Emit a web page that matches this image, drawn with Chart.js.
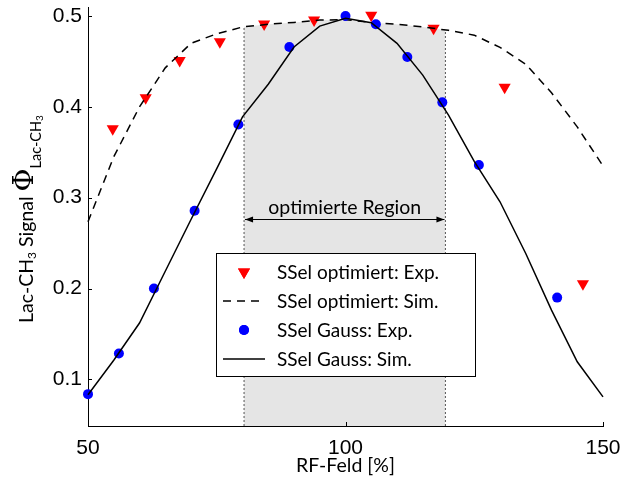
<!DOCTYPE html>
<html>
<head>
<meta charset="utf-8">
<script src="https://cdn.jsdelivr.net/npm/chart.js@4/dist/chart.umd.min.js"></script>
<style>
  html, body { margin: 0; padding: 0; background: #fff; }
  #wrap { width: 622px; height: 483px; }
</style>
</head>
<body>
<div id="wrap"><canvas id="c" width="622" height="483"></canvas></div>
<script>
// Simulated signal over the RF field, sampled every 5 %
const simRF = [50, 55, 60, 65, 70, 75, 80, 85, 90, 95, 100, 105, 110, 115, 120, 125, 130, 135, 140, 145, 150];
const simOptimiert = [0.2735, 0.345, 0.400, 0.443, 0.470, 0.4805, 0.488, 0.491, 0.493, 0.4956, 0.496, 0.493, 0.491, 0.488, 0.4843, 0.479, 0.4655, 0.447, 0.4156, 0.378, 0.335];
const simGauss = [0.083, 0.121, 0.162, 0.219, 0.276, 0.332, 0.389, 0.425, 0.466, 0.489, 0.4975, 0.4927, 0.470, 0.435, 0.391, 0.340, 0.2955, 0.2386, 0.1762, 0.1193, 0.0807];

// Measured signal, optimised selective pulse
const expOptRF = [54.8, 61.2, 67.8, 75.6, 84.2, 93.9, 105.0, 117.1, 130.9, 146.1];
const expOptSignal = [0.376, 0.410, 0.451, 0.4716, 0.4914, 0.4958, 0.501, 0.4867, 0.4215, 0.2053];

// Measured signal, Gaussian selective pulse
const expGaussRF = [50.0, 56.0, 62.8, 70.7, 79.2, 89.1, 100.0, 105.9, 112.0, 118.8, 125.9, 141.1];
const expGaussSignal = [0.0837, 0.1285, 0.200, 0.2856, 0.3807, 0.466, 0.500, 0.491, 0.455, 0.405, 0.336, 0.190];

// Optimised RF range and the level of its arrow
const regionBounds = [80.3, 119.4];
const regionArrowLevel = 0.2765;
const regionLabel = 'optimierte Region';

const xTicks = [50, 100, 150];
const yTicks = [0.1, 0.2, 0.3, 0.4, 0.5];
const xRange = [50, 150];
const yRange = [0.0486, 0.51];

const seriesLabels = ['SSel optimiert: Exp.', 'SSel optimiert: Sim.', 'SSel Gauss: Exp.', 'SSel Gauss: Sim.'];
const xTitle = 'RF-Feld [%]';

const TEXT_FONT = 'Lato, "Open Sans", sans-serif';
const TICK_FONT = '"Liberation Sans", Arial, sans-serif';

function pts(xs, ys) { return xs.map((x, i) => ({ x: x, y: ys[i] })); }

// Linear read-off of the optimised simulation at a given RF value
function simOptAt(x) {
  for (let i = 0; i < simRF.length - 1; i++) {
    if (x >= simRF[i] && x <= simRF[i + 1]) {
      const t = (x - simRF[i]) / (simRF[i + 1] - simRF[i]);
      return simOptimiert[i] + t * (simOptimiert[i + 1] - simOptimiert[i]);
    }
  }
  return simOptimiert[simOptimiert.length - 1];
}

const regionOutline = [{ x: regionBounds[0], y: simOptAt(regionBounds[0]) }]
  .concat(simRF.map((x, i) => ({ x: x, y: simOptimiert[i] })).filter(p => p.x > regionBounds[0] && p.x < regionBounds[1]))
  .concat([{ x: regionBounds[1], y: simOptAt(regionBounds[1]) }]);

const boundLine = (b) => [{ x: b, y: yRange[0] }, { x: b, y: simOptAt(b) }];

// Legend, arrow, axis titles and inward tick marks
const decorations = {
  id: 'decorations',
  afterDatasetsDraw(chart) {
    const { ctx, scales: { x, y } } = chart;
    ctx.save();

    // double arrow across the optimised range
    const ay = Math.round(y.getPixelForValue(regionArrowLevel)) + 0.5;
    const ax0 = x.getPixelForValue(regionBounds[0]) + 1;
    const ax1 = x.getPixelForValue(regionBounds[1]) - 1;
    ctx.strokeStyle = '#000';
    ctx.fillStyle = '#000';
    ctx.lineWidth = 1;
    ctx.beginPath();
    ctx.moveTo(ax0, ay); ctx.lineTo(ax1, ay); ctx.stroke();
    ctx.beginPath();
    ctx.moveTo(ax0, ay); ctx.lineTo(ax0 + 8, ay - 3); ctx.lineTo(ax0 + 8, ay + 3); ctx.closePath(); ctx.fill();
    ctx.beginPath();
    ctx.moveTo(ax1, ay); ctx.lineTo(ax1 - 8, ay - 3); ctx.lineTo(ax1 - 8, ay + 3); ctx.closePath(); ctx.fill();
    ctx.font = '19.5px ' + TEXT_FONT;
    ctx.textAlign = 'center';
    ctx.textBaseline = 'alphabetic';
    ctx.fillText(regionLabel, (ax0 + ax1) / 2, ay - 6);

    // inward tick marks
    ctx.strokeStyle = '#000';
    ctx.beginPath();
    yTicks.forEach(v => {
      const py = Math.round(y.getPixelForValue(v)) + 0.5;
      ctx.moveTo(x.left, py); ctx.lineTo(x.left + 4, py);
    });
    xTicks.forEach(v => {
      const px = Math.round(x.getPixelForValue(v)) + 0.5;
      ctx.moveTo(px, y.bottom); ctx.lineTo(px, y.bottom - 4);
    });
    ctx.stroke();

    // legend box
    const lx = 216, ly = 253, lw = 259, lh = 123;
    ctx.fillStyle = '#fff';
    ctx.fillRect(lx, ly, lw, lh);
    ctx.strokeStyle = '#000';
    ctx.lineWidth = 1;
    ctx.strokeRect(lx + 0.5, ly + 0.5, lw, lh);
    const rowY = (i) => ly + 19 + i * 29;
    const symX = 244;
    ctx.font = '19px ' + TEXT_FONT;
    ctx.textAlign = 'left';
    ctx.textBaseline = 'middle';
    chart.data.datasets.filter(d => d.legendIndex !== undefined).forEach(d => {
      const i = d.legendIndex;
      const cy = rowY(i);
      if (d.showLine) {
        ctx.save();
        ctx.strokeStyle = d.borderColor;
        ctx.lineWidth = d.borderWidth;
        ctx.setLineDash(d.borderDash || []);
        ctx.beginPath(); ctx.moveTo(223, cy); ctx.lineTo(265, cy); ctx.stroke();
        ctx.restore();
      } else {
        ctx.save();
        ctx.fillStyle = d.backgroundColor;
        Chart.helpers.drawPoint(ctx, { pointStyle: d.pointStyle, radius: d.pointRadius, rotation: d.rotation || 0, borderWidth: 0 }, symX, cy);
        ctx.fill();
        ctx.restore();
      }
      ctx.fillStyle = '#000';
      ctx.fillText(d.label, 277, cy + 1);
    });

    // x axis title
    ctx.font = '19.5px ' + TEXT_FONT;
    ctx.textAlign = 'center';
    ctx.textBaseline = 'middle';
    ctx.fillText(xTitle, (x.left + x.right) / 2, 466);

    // y axis title with subscripts
    ctx.translate(33, 219);
    ctx.rotate(-Math.PI / 2);
    ctx.textBaseline = 'alphabetic';
    ctx.textAlign = 'left';
    const parts = [
      { t: 'Lac-CH', f: '19.5px ' + TEXT_FONT, dy: 0 },
      { t: '3', f: '12px ' + TEXT_FONT, dy: 3 },
      { t: ' Signal ', f: '19.5px ' + TEXT_FONT, dy: 0 },
      { t: '\u03A6', f: '28px "DejaVu Serif", serif', dy: 0 },
      { t: 'Lac-CH', f: '14.5px ' + TEXT_FONT, dy: 8 },
      { t: '3', f: '10px ' + TEXT_FONT, dy: 10 }
    ];
    let total = 0;
    parts.forEach(p => { ctx.font = p.f; p.w = ctx.measureText(p.t).width; total += p.w; });
    let cx = -total / 2;
    parts.forEach(p => { ctx.font = p.f; ctx.fillText(p.t, cx, p.dy); cx += p.w; });

    ctx.restore();
  }
};

new Chart(document.getElementById('c'), {
  type: 'scatter',
  data: {
    datasets: [
      {
        label: seriesLabels[3], legendIndex: 3,
        data: pts(simRF, simGauss), showLine: true,
        borderColor: '#000', borderWidth: 1.5, pointRadius: 0, order: 1, clip: false
      },
      {
        label: seriesLabels[2], legendIndex: 2,
        data: pts(expGaussRF, expGaussSignal), showLine: false,
        pointStyle: 'circle', pointRadius: 5, backgroundColor: '#0000ff', borderWidth: 0,
        order: 2, clip: false
      },
      {
        label: seriesLabels[1], legendIndex: 1,
        data: pts(simRF, simOptimiert), showLine: true,
        borderColor: '#000', borderWidth: 1.5, borderDash: [8, 6], pointRadius: 0, order: 3, clip: false
      },
      {
        label: seriesLabels[0], legendIndex: 0,
        data: pts(expOptRF, expOptSignal), showLine: false,
        pointStyle: 'triangle', rotation: 180, pointRadius: 7, backgroundColor: '#ff0000', borderWidth: 0,
        order: 4, clip: false
      },
      {
        label: 'bound-left', data: boundLine(regionBounds[0]), showLine: true,
        borderColor: '#555', borderWidth: 1, borderDash: [2, 2], pointRadius: 0, order: 5
      },
      {
        label: 'bound-right', data: boundLine(regionBounds[1]), showLine: true,
        borderColor: '#555', borderWidth: 1, borderDash: [2, 2], pointRadius: 0, order: 5
      },
      {
        label: 'region', data: regionOutline, showLine: true,
        borderWidth: 0, borderColor: 'rgba(0,0,0,0)', backgroundColor: '#e5e5e5',
        fill: 'start', pointRadius: 0, order: 6
      }
    ]
  },
  options: {
    responsive: false,
    animation: false,
    events: [],
    layout: { padding: { left: 0, top: 7, right: 19, bottom: 0 } },
    plugins: { legend: { display: false }, tooltip: { enabled: false } },
    scales: {
      x: {
        type: 'linear', min: xRange[0], max: xRange[1],
        grid: { display: false, drawTicks: false },
        border: { display: true, color: '#000', width: 1 },
        afterBuildTicks: (s) => { s.ticks = xTicks.map(v => ({ value: v })); },
        afterFit: (s) => { s.height = 57; s.paddingLeft = 0; s.paddingRight = 0; },
        ticks: { color: '#000', padding: 10, maxRotation: 0, font: { family: TICK_FONT, size: 21 }, callback: (v) => String(v) }
      },
      y: {
        type: 'linear', min: yRange[0], max: yRange[1],
        grid: { display: false, drawTicks: false },
        border: { display: true, color: '#000', width: 1 },
        afterBuildTicks: (s) => { s.ticks = yTicks.map(v => ({ value: v })); },
        afterFit: (s) => { s.width = 88; s.paddingTop = 0; s.paddingBottom = 0; },
        ticks: { color: '#000', padding: 6, font: { family: TICK_FONT, size: 21 }, callback: (v) => v.toFixed(1) }
      }
    }
  },
  plugins: [decorations]
});
</script>
</body>
</html>
